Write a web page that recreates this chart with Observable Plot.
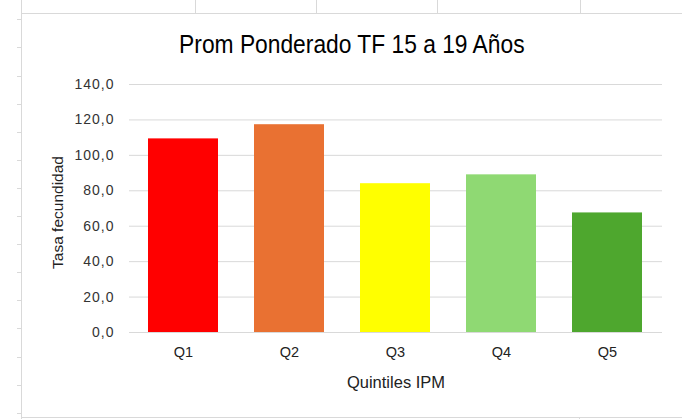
<!DOCTYPE html>
<html><head><meta charset="utf-8">
<script src="https://cdn.jsdelivr.net/npm/d3@7"></script>
<script src="https://cdn.jsdelivr.net/npm/@observablehq/plot@0.6"></script>
<style>
html,body{margin:0;padding:0;background:#fff;}
#wrap{position:relative;width:682px;height:419px;overflow:hidden;}
#chart{position:absolute;left:0;top:0;}
.sheet{position:absolute;background:#d9d9d9;}
#title{position:absolute;left:0;width:704px;top:30.5px;line-height:27px;text-align:center;
  font-family:"Liberation Sans",Arial,sans-serif;font-size:26.5px;color:#000;}
#title span{display:inline-block;transform:scaleX(0.86);transform-origin:center;white-space:nowrap;}
g[aria-label="y-axis tick label"] text{letter-spacing:1px;}
</style></head><body>
<div id="wrap"><div id="chart"></div><div id="title"><span id="tt"></span></div></div>
<script>
// ---- data ----
const quintiles = ["Q1", "Q2", "Q3", "Q4", "Q5"];
const tasa = [109.3, 117.3, 84.0, 89.0, 67.5];
const colores = ["#FF0000", "#E97132", "#FFFF00", "#8FD973", "#4EA72E"];
const yTicks = [0, 20, 40, 60, 80, 100, 120, 140];
const titulo = "Prom Ponderado TF 15 a 19 Años";
const tituloY = "Tasa fecundidad";
const tituloX = "Quintiles IPM";

const data = quintiles.map((q, i) => ({q, v: tasa[i], c: colores[i]}));

const plot = Plot.plot({
  width: 682, height: 419,
  marginLeft: 129, marginRight: 20, marginTop: 84, marginBottom: 87,
  style: {background: "transparent", fontFamily: "'Liberation Sans', Arial, sans-serif"},
  x: {domain: quintiles, paddingInner: 0.335, paddingOuter: 0.1675, label: null},
  y: {domain: [0, 140], label: null},
  marks: [
    Plot.ruleY(yTicks, {stroke: "#d9d9d9", strokeWidth: 1}),
    Plot.barY(data, {x: "q", y: "v", fill: "c"}),
    Plot.axisY(yTicks, {tickSize: 0, tickPadding: 15, fontSize: 14, fill: "#333",
      tickFormat: d => d.toFixed(1).replace(".", ","), label: null}),
    Plot.axisX({tickSize: 0, tickPadding: 14, fontSize: 14.5, fill: "#222", label: null}),
    Plot.text([tituloY], {frameAnchor: "left", textAnchor: "middle", lineAnchor: "middle",
      dx: -71, dy: 4, rotate: -90, fontSize: 15.5, fill: "#222"}),
    Plot.text([tituloX], {frameAnchor: "bottom", lineAnchor: "middle", dy: 50, fontSize: 16.5, fill: "#222"})
  ]
});
document.getElementById("chart").appendChild(plot);
document.getElementById("tt").textContent = titulo;

// spreadsheet background lines (decoration)
const wrap = document.getElementById("wrap");
function line(l, t, w, h) {
  const d = document.createElement("div");
  d.className = "sheet";
  Object.assign(d.style, {left: l + "px", top: t + "px", width: w + "px", height: h + "px"});
  wrap.appendChild(d);
}
line(21, 13, 661, 1);
line(21, 0, 1, 419);
line(21, 417, 661, 1);
[195, 316, 437, 580].forEach(x => line(x, 0, 1, 13));
line(579, 417, 1, 2);
for (let k = 0; k < 15; k++) line(17, Math.round(19.3 + 28.1 * k), 4, 1);
</script>
</body></html>
